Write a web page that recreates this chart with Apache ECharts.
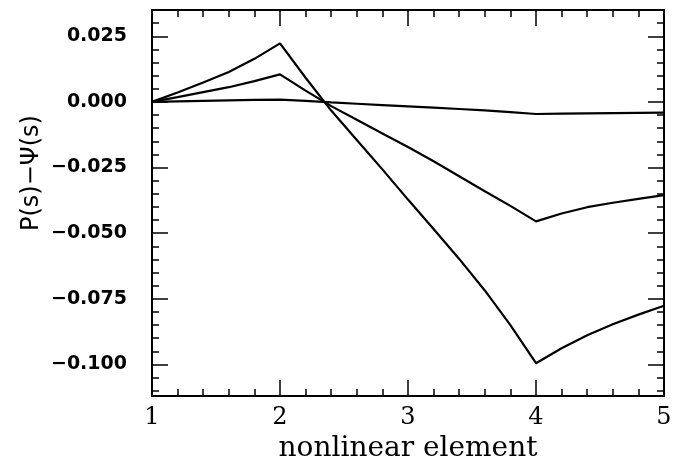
<!DOCTYPE html>
<html lang="en">
<head>
    <meta charset="UTF-8">
    <title>P(s) - Psi(s)</title>
    <script src="https://cdn.jsdelivr.net/npm/echarts@6.0.0/dist/echarts.min.js"></script>
    <style>
        html, body { margin: 0; padding: 0; background: #fff; }
        #chart { width: 681px; height: 458px; }
    </style>
</head>
<body>
<div id="chart"></div>
<script>
    // x positions (nonlinear element)
    var xs = [1, 1.2, 1.4, 1.6, 1.8, 2, 2.2, 2.4, 2.6, 2.8, 3, 3.2, 3.4, 3.6, 3.8, 4, 4.2, 4.4, 4.6, 4.8, 5];
    // three curves
    var curveBig = [0, 0.0036, 0.0074, 0.0114, 0.0164, 0.0223, 0.0092, -0.0033, -0.0145, -0.0257, -0.0372,
        -0.0484, -0.0598, -0.0718, -0.0850, -0.0995, -0.0938, -0.0889, -0.0847, -0.0810, -0.0776];
    var curveMid = [0, 0.0018, 0.0037, 0.0056, 0.0079, 0.0105, 0.0043, -0.0016, -0.0068, -0.0120, -0.0172,
        -0.0226, -0.0283, -0.0340, -0.0396, -0.0455, -0.0425, -0.0401, -0.0384, -0.0369, -0.0355];
    var curveSmall = [0, 0.0002, 0.0004, 0.0006, 0.0008, 0.0009, 0.0004, -0.0002, -0.0007, -0.0012, -0.0017,
        -0.0022, -0.0027, -0.0032, -0.0039, -0.0046, -0.0045, -0.0044, -0.0043, -0.0042, -0.0041];

    // ticks
    var yMajor = [-0.1, -0.075, -0.05, -0.025, 0, 0.025];
    var yMinor = [];
    for (var k = -22; k <= 7; k++) { yMinor.push(k * 0.005); }
    var yMin = -0.112, yMax = 0.035;

    function pairs(ys) {
        return xs.map(function (x, i) { return [x, ys[i]]; });
    }

    function yLabel(v) {
        var s = Math.abs(v).toFixed(3);
        return v < -1e-9 ? '\u2212' + s : s;
    }

    var lineStyle = { color: '#000', width: 2.2 };
    var black = { color: '#000', width: 2 };

    function xAxis(pos, major, show) {
        return {
            type: 'value', position: pos, min: 1, max: 5,
            interval: major ? 1 : 0.2,
            axisLine: { show: true, onZero: false, lineStyle: black },
            axisTick: { show: true, inside: true, length: major ? 16 : 7, lineStyle: { color: '#000', width: 1.5 } },
            axisLabel: {
                show: show, margin: 10, color: '#000',
                fontFamily: 'DejaVu Serif', fontSize: 24
            },
            splitLine: { show: false }
        };
    }

    function yAxis(pos, major, show) {
        return {
            type: 'value', position: pos, min: yMin, max: yMax,
            axisLine: { show: true, onZero: false, lineStyle: black },
            axisTick: {
                show: true, inside: true, length: major ? 16 : 7,
                customValues: major ? yMajor : yMinor,
                lineStyle: { color: '#000', width: 1.5 }
            },
            axisLabel: {
                show: show, margin: 25, color: '#000',
                customValues: yMajor,
                fontFamily: 'DejaVu Sans', fontSize: 19, fontWeight: 'bold',
                formatter: yLabel
            },
            splitLine: { show: false }
        };
    }

    var chart = echarts.init(document.getElementById('chart'));
    var base = xAxis('bottom', true, true);
    base.name = 'nonlinear element';
    base.nameLocation = 'middle';
    base.nameGap = 38;
    base.nameTextStyle = { fontFamily: 'DejaVu Serif', fontSize: 28, color: '#000' };

    chart.setOption({
        backgroundColor: '#fff',
        animation: false,
        grid: { left: 152, right: 17, top: 10, bottom: 62, outerBoundsMode: 'none' },
        xAxis: [base, xAxis('bottom', false, false), xAxis('top', true, false), xAxis('top', false, false)],
        yAxis: [yAxis('left', true, true), yAxis('left', false, false), yAxis('right', true, false), yAxis('right', false, false)],
        graphic: [{
            type: 'text', x: 32, y: 173, rotation: Math.PI / 2,
            style: {
                text: 'P(s)\u2212\u03a8(s)', align: 'center', verticalAlign: 'middle',
                fontFamily: 'DejaVu Sans', fontSize: 24, fill: '#000'
            }
        }],
        series: [
            { type: 'line', data: pairs(curveBig), symbol: 'none', lineStyle: lineStyle },
            { type: 'line', data: pairs(curveMid), symbol: 'none', lineStyle: lineStyle },
            { type: 'line', data: pairs(curveSmall), symbol: 'none', lineStyle: lineStyle }
        ]
    });
</script>
</body>
</html>
